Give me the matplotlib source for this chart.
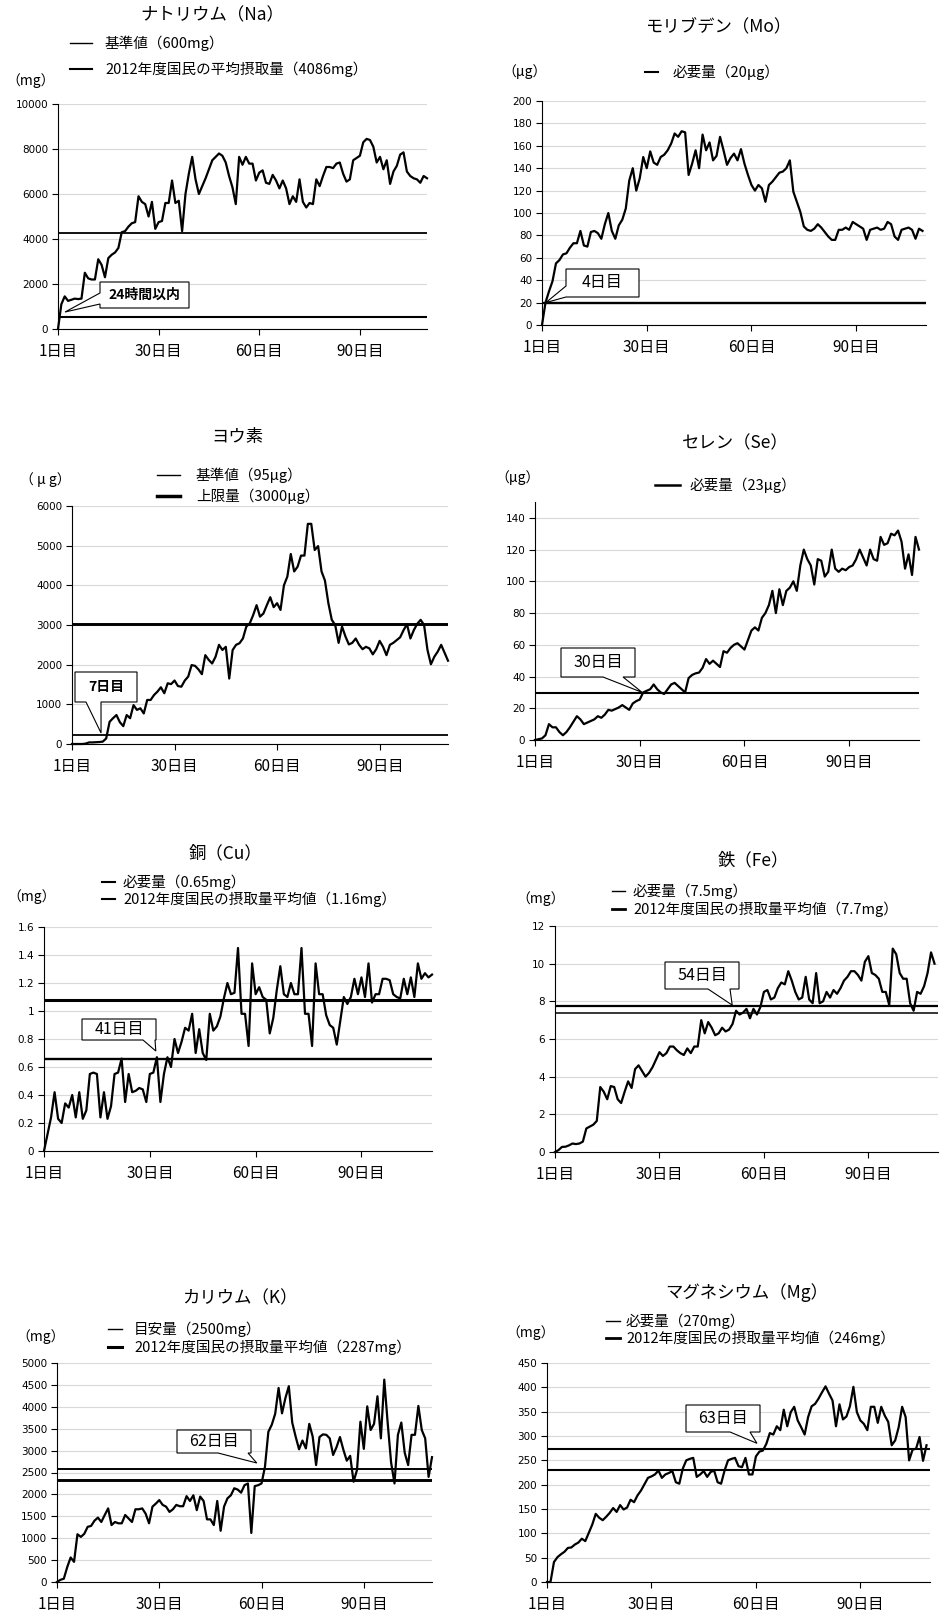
import matplotlib
matplotlib.use("Agg")
import matplotlib.pyplot as plt
from matplotlib.lines import Line2D
from matplotlib.patches import Polygon

# CJK font first, DejaVu for anything it lacks
plt.rcParams['font.family'] = ['Noto Sans CJK JP', 'DejaVu Sans']

W, H = 940, 1613
DAY_END = 111
day_ticks = [1, 31, 61, 91]
day_labels = ['1日目', '30日目', '60日目', '90日目']

# ---- daily values ----
na_vals = [0, 1100, 1450, 1250, 1300, 1350, 1330, 1350, 2500, 2250,
           2200, 2200, 3100, 2850, 2300, 3150, 3300, 3400, 3600, 4300,
           4350, 4550, 4700, 4750, 5900, 5650, 5550, 5000, 5650, 4450,
           4750, 4800, 5600, 5600, 6600, 5600, 5700, 4350, 6000, 6900,
           7650, 6650, 6000, 6350, 6700, 7100, 7500, 7650, 7800, 7700,
           7400, 6800, 6300, 5550,
           7650, 7300, 7650, 7350, 7350, 6600, 6950, 7050, 6500, 6450,
           6850, 6600, 6250, 6600, 6250, 5550, 5900, 5650, 6650, 5650,
           5400, 5600, 5550, 6650, 6350, 6800, 7200, 7200, 7150, 7350,
           7400, 6900, 6550, 6650, 7500, 7600, 7700, 8300, 8450, 8400,
           8100, 7400, 7650, 7100, 7500, 6450, 7000, 7250, 7750, 7850,
           7000, 6800, 6700, 6650, 6500, 6800, 6700]

mo_vals = [0, 20, 30, 39, 55, 58, 63, 64, 69, 73,
           73, 84, 71, 70, 83, 84, 82, 77, 90, 100,
           84, 77, 89, 94, 104, 129, 140, 120, 131, 150,
           140, 155, 145, 143, 150, 152, 156, 162, 171, 168,
           173, 172, 134, 144, 156, 140, 170, 156, 163, 147,
           151, 168, 156, 143, 149, 153, 147, 157, 144, 134,
           125, 120, 125, 122, 110, 125, 128, 132, 136, 137,
           140, 147, 119, 110, 101, 88, 85, 84, 86, 90,
           87, 83, 79, 76, 76, 85, 85, 87, 85, 92,
           90, 88, 86, 76, 85, 86, 87, 85, 86, 92,
           90, 79, 76, 85, 86, 87, 85, 77, 86, 84]

iodine_vals = [0, 0, 0, 0, 10, 40, 40, 45, 50, 60,
               140, 560, 650, 730, 550, 450, 730, 650, 980,
               860, 900, 770, 1110, 1110, 1235, 1320, 1430, 1280, 1530,
               1510, 1600, 1460, 1445, 1600, 1700, 1990, 1970, 1880, 1760,
               2240, 2120, 2030, 2200, 2500, 2370, 2450, 1650, 2370, 2500,
               2540, 2660, 2960, 3040, 3250, 3500, 3210, 3290, 3500, 3700,
               3450, 3550, 3380, 4000, 4220, 4790, 4350, 4470, 4750, 4750,
               5550, 5550, 4890, 4990, 4350, 4120, 3550, 3130, 3000, 2550,
               2960, 2710, 2510, 2550, 2660, 2500, 2390, 2450, 2410, 2260,
               2390, 2600, 2450, 2240, 2500, 2550, 2620, 2690, 2870, 3020,
               2660, 2870, 3030, 3130, 3000, 2370, 2010, 2200, 2330, 2500,
               2300, 2100]

se_vals = [0, 0.5, 1, 3, 10, 8, 8, 5, 3, 5,
           8, 11.5, 15, 13, 10, 11, 12, 13, 15, 14,
           16, 19, 18.5, 19.5, 20.5, 22, 20.5, 19, 23, 24.5,
           25.5, 30, 31, 32, 35, 32, 30, 29, 32, 35,
           36, 34, 32, 30, 39, 41, 42, 42.5, 45.5, 51,
           48, 50, 48, 46, 56, 55, 58, 60, 61, 59,
           57, 63, 69, 71, 69, 77, 80, 85, 94, 80,
           95, 85, 94, 96, 100, 94, 110, 120, 114, 110,
           98, 114, 113, 103, 106, 120, 108, 106, 108, 107,
           109, 110, 114, 120, 115, 110, 120, 114, 113, 128,
           123, 124, 130, 129, 132, 125, 108, 117, 104, 128,
           120]

cu_vals = [0, 0.12, 0.24, 0.42, 0.23, 0.2, 0.34, 0.31, 0.4, 0.24,
           0.42, 0.23, 0.29, 0.55, 0.56, 0.55, 0.24, 0.42, 0.23, 0.32,
           0.55, 0.56, 0.66, 0.35, 0.55, 0.42, 0.43, 0.45, 0.44, 0.35,
           0.55, 0.56, 0.67, 0.35, 0.55, 0.67, 0.6, 0.8, 0.7, 0.78,
           0.88, 0.86, 0.98, 0.7, 0.87, 0.7, 0.65, 0.98, 0.86, 0.89,
           0.96, 1.09, 1.2, 1.12, 1.13, 1.45, 0.98, 0.98, 0.75, 1.34,
           1.12, 1.17, 1.1, 1.08, 0.84, 0.95, 1.15, 1.32, 1.12, 1.1,
           1.2, 1.12, 1.12, 1.45, 0.98, 0.98, 0.75, 1.34, 1.12, 1.12,
           0.97, 0.9, 0.88, 0.76, 0.93, 1.1, 1.05, 1.1, 1.23, 1.12,
           1.24, 1.1, 1.34, 1.06, 1.12, 1.12, 1.23, 1.23, 1.22, 1.12,
           1.1, 1.09, 1.23, 1.12, 1.24, 1.1, 1.34, 1.23, 1.27, 1.24,
           1.26]

fe_vals = [0, 0.1, 0.27, 0.28, 0.35, 0.45, 0.42, 0.45, 0.55, 1.25,
           1.35, 1.45, 1.65, 3.45, 3.2, 2.8, 3.5, 3.45, 2.8, 2.6,
           3.2, 3.75, 3.4, 4.4, 4.6, 4.3, 4.0, 4.2, 4.5, 4.9,
           5.3, 5.1, 5.25, 5.6, 5.6, 5.4, 5.25, 5.15, 5.5, 5.25,
           5.6, 5.6, 7.0, 6.3, 6.9, 6.6, 6.2, 6.3, 6.6, 6.4,
           6.5, 6.8, 7.5, 7.3, 7.4, 7.6, 7.1, 7.6, 7.3, 7.7,
           8.5, 8.6, 8.1, 8.2, 8.7, 9.0, 8.9, 9.6, 9.1, 8.5,
           8.1, 8.2, 9.3, 8.1, 7.9, 9.5, 7.9, 8.0, 8.5, 8.2,
           8.6, 8.4, 8.7, 9.1, 9.3, 9.6, 9.6, 9.4, 9.1, 10.1,
           10.4, 9.5, 9.4, 9.2, 8.5, 8.5, 7.8, 10.8, 10.5, 9.5,
           9.2, 9.2, 7.9, 7.5, 8.5, 8.4, 8.8, 9.5, 10.6, 10.0]

k_vals = [0, 50, 75, 340, 560, 460, 1090, 1030, 1100, 1260,
          1280, 1400, 1470, 1370, 1530, 1680, 1300, 1370, 1340, 1340,
          1530, 1450, 1370, 1660, 1660, 1680, 1560, 1340, 1720, 1790,
          1870, 1760, 1720, 1600, 1660, 1760, 1730, 1730, 1960, 1850,
          1980, 1640, 1950, 1850, 1430, 1430, 1300, 1850, 1170, 1720,
          1910, 1980, 2140, 2110, 2040, 2210, 2250, 1120, 2190, 2210,
          2250, 2630, 3430, 3590, 3840, 4430, 3850, 4200, 4470, 3640,
          3320, 3030, 3230, 3050, 3610, 3320, 2670, 3310, 3370, 3360,
          3280, 2900, 3080, 3310, 3020, 2770, 2880, 2290, 2560, 3660,
          3040, 4010, 3470, 3610, 4240, 3280, 4620, 3630, 2730, 2250,
          3360, 3640, 2950, 2670, 3360, 3360, 4020, 3470, 3280, 2400,
          2850]

mg_vals = [0, 0, 41, 51, 57, 62, 70, 71, 77, 81,
           89, 84, 101, 118, 140, 132, 127, 134, 142, 152,
           144, 158, 149, 153, 169, 164, 178, 188, 201, 214,
           217, 221, 229, 214, 221, 224, 228, 205, 202, 233,
           250, 253, 255, 216, 221, 228, 216, 226, 229, 205,
           202, 229, 250, 253, 255, 238, 236, 255, 221, 221,
           258, 268, 270, 284, 306, 303, 320, 312, 354, 320,
           349, 360, 332, 318, 303, 339, 361, 366, 377, 390,
           402, 387, 373, 320, 365, 334, 340, 361, 401, 349,
           332, 325, 312, 360, 360, 327, 360, 342, 329, 281,
           291, 318, 360, 339, 250, 272, 274, 298, 249, 281]

# reference levels as drawn in the picture
na_refs = [550, 4270]
mo_refs = [20]
iodine_refs = [230, 3020]
se_refs = [29.5]
cu_refs = [0.657, 1.081]
fe_refs = [7.38, 7.75]
k_refs = [2580, 2340]
mg_refs = [274, 231]

na_legend = ['基準値（600mg）', '2012年度国民の平均摂取量（4086mg）']
mo_legend = ['必要量（20μg）']
iodine_legend = ['基準値（95μg）', '上限量（3000μg）']
se_legend = ['必要量（23μg）']
cu_legend = ['必要量（0.65mg）', '2012年度国民の摂取量平均値（1.16mg）']
fe_legend = ['必要量（7.5mg）', '2012年度国民の摂取量平均値（7.7mg）']
k_legend = ['目安量（2500mg）', '2012年度国民の摂取量平均値（2287mg）']
mg_legend = ['必要量（270mg）', '2012年度国民の摂取量平均値（246mg）']

# layout of each panel (pixels in the 940x1613 picture)
panels = [
    dict(title='ナトリウム（Na）', title_xy=(212, 15), unit='（mg）', unit_xy=(6, 81),
         box=(58, 104, 427, 329), vals=na_vals, ymax=10000, ystep=2000, ytop=10000,
         refs=na_refs, ref_lw=[1.5, 1.3],
         legend=na_legend, leg_lw=[1.0, 1.5], leg_y=[43, 69], leg_x=(70, 92, 105),
         call=dict(box=(100, 282, 189, 308), side='left', base=(293, 304),
                   tip=(3.1, 755), text='24時間以内', bold=True)),
    dict(title='モリブデン（Mo）', title_xy=(718, 27), unit='（μg）', unit_xy=(502, 72),
         box=(542, 101, 926, 325), vals=mo_vals, ymax=200, ystep=20, ytop=200,
         refs=mo_refs, ref_lw=[1.7],
         legend=mo_legend, leg_lw=[1.5], leg_y=[72], leg_x=(645, 658, 673),
         call=dict(box=(566, 269, 639, 297), side='left', base=(286, 297),
                   tip=(2.1, 20), text='4日目', bold=False)),
    dict(title='ヨウ素', title_xy=(237, 437), unit='（ μ g）', unit_xy=(20, 480),
         box=(72, 506, 448, 744), vals=iodine_vals, ymax=6000, ystep=1000, ytop=6000,
         refs=iodine_refs, ref_lw=[1.3, 2.1],
         legend=iodine_legend, leg_lw=[1.0, 2.5], leg_y=[475, 496], leg_x=(157, 180, 196),
         call=dict(box=(75, 672, 137, 702), side='bottom', base=(86, 101),
                   tip=(9.5, 277), text='7日目', bold=True)),
    dict(title='セレン（Se）', title_xy=(735, 443), unit='（μg）', unit_xy=(495, 478),
         box=(535, 502, 919, 740), vals=se_vals, ymax=150, ystep=20, ytop=140,
         refs=se_refs, ref_lw=[1.5],
         legend=se_legend, leg_lw=[1.8], leg_y=[485], leg_x=(655, 680, 690),
         call=dict(box=(561, 648, 635, 677), side='bottom', base=(603, 623),
                   tip=(31.7, 30), text='30日目', bold=False)),
    dict(title='銅（Cu）', title_xy=(225, 853), unit='（mg）', unit_xy=(7, 897),
         box=(44, 927, 432, 1151), vals=cu_vals, ymax=1.6, ystep=0.2, ytop=1.6,
         refs=cu_refs, ref_lw=[1.7, 2.2],
         legend=cu_legend, leg_lw=[1.5, 1.5], leg_y=[882, 899], leg_x=(102, 115, 123),
         call=dict(box=(82, 1019, 156, 1040), side='bottom', base=(143, 155),
                   tip=(32.7, 0.714), text='41日目', bold=False)),
    dict(title='鉄（Fe）', title_xy=(753, 860), unit='（mg）', unit_xy=(516, 899),
         box=(555, 926, 938, 1152), vals=fe_vals, ymax=12, ystep=2, ytop=12,
         refs=fe_refs, ref_lw=[1.1, 1.6],
         legend=fe_legend, leg_lw=[1.0, 2.0], leg_y=[891, 909], leg_x=(612, 625, 633),
         call=dict(box=(665, 962, 739, 989), side='bottom', base=(708, 730),
                   tip=(51.9, 7.8), text='54日目', bold=False)),
    dict(title='カリウム（K）', title_xy=(240, 1298), unit='（mg）', unit_xy=(16, 1337),
         box=(57, 1363, 432, 1582), vals=k_vals, ymax=5000, ystep=500, ytop=5000,
         refs=k_refs, ref_lw=[1.4, 2.1],
         legend=k_legend, leg_lw=[1.0, 2.2], leg_y=[1329, 1347], leg_x=(108, 122, 134),
         call=dict(box=(177, 1430, 251, 1453), side='bottom', base=(218, 248),
                   tip=(59.6, 2717), text='62日目', bold=False)),
    dict(title='マグネシウム（Mg）', title_xy=(747, 1293), unit='（mg）', unit_xy=(506, 1333),
         box=(547, 1363, 930, 1582), vals=mg_vals, ymax=450, ystep=50, ytop=450,
         refs=mg_refs, ref_lw=[1.5, 1.5],
         legend=mg_legend, leg_lw=[1.0, 2.0], leg_y=[1321, 1338], leg_x=(606, 620, 626),
         call=dict(box=(686, 1405, 760, 1432), side='bottom', base=(730, 750),
                   tip=(61.3, 285), text='63日目', bold=False)),
]


def fx(px):
    return px / W


def fy(py):
    return 1 - py / H


def callout(ax, box, c):
    """Excel-like rectangular callout with a pointed tail."""
    left, top, right, bottom = box

    def frac(px, py):
        return ((px - left) / (right - left), (bottom - py) / (bottom - top))

    x0, y0, x1, y1 = c['box']
    tl, tr, br, bl = frac(x0, y0), frac(x1, y0), frac(x1, y1), frac(x0, y1)
    tip = tuple(ax.transLimits.transform(c['tip']))
    b1, b2 = c['base']
    if c['side'] == 'left':
        pts = [tl, tr, br, bl, frac(x0, b2), tip, frac(x0, b1)]
    else:
        pts = [tl, tr, br, frac(b2, y1), tip, frac(b1, y1), bl]
    ax.add_patch(Polygon(pts, closed=True, facecolor='white', edgecolor='black',
                         lw=0.8, transform=ax.transAxes, clip_on=False, zorder=5))
    cx, cy = frac((x0 + x1) / 2, (y0 + y1) / 2)
    ax.text(cx, cy, c['text'], transform=ax.transAxes, ha='center', va='center',
            fontsize=11.5 if not c['bold'] else 10,
            fontweight='bold' if c['bold'] else 'normal', zorder=6)


fig = plt.figure(figsize=(W / 100, H / 100), dpi=100)

for p in panels:
    left, top, right, bottom = p['box']
    ax = fig.add_axes([fx(left), fy(bottom), (right - left) / W, (bottom - top) / H])
    days = list(range(1, len(p['vals']) + 1))

    ax.set_xlim(1, DAY_END)
    ax.set_ylim(0, p['ymax'])
    n_ticks = int(round(p['ytop'] / p['ystep'])) + 1
    yt = [round(i * p['ystep'], 6) for i in range(n_ticks)]
    ax.set_yticks(yt)
    ax.set_yticklabels([f"{v:g}" for v in yt], fontfamily='DejaVu Sans', fontsize=7.5)
    ax.set_xticks(day_ticks)
    ax.set_xticklabels(day_labels, fontsize=11)

    ax.yaxis.grid(True, color='#d9d9d9', lw=0.8)
    ax.set_axisbelow(True)
    for s in ['top', 'right']:
        ax.spines[s].set_visible(False)
    for s in ['left', 'bottom']:
        ax.spines[s].set_linewidth(0.8)
    ax.tick_params(axis='y', length=4, width=0.8, pad=3)
    ax.tick_params(axis='x', length=4, width=0.8, pad=6)

    for val, lw in zip(p['refs'], p['ref_lw']):
        ax.axhline(val, color='black', lw=lw, zorder=3)
    ax.plot(days, p['vals'], color='black', lw=1.6, zorder=4, clip_on=False)

    callout(ax, p['box'], p['call'])

    # title, unit and hand-placed legend
    fig.text(fx(p['title_xy'][0]), fy(p['title_xy'][1]), p['title'],
             ha='center', va='center', fontsize=12.5)
    fig.text(fx(p['unit_xy'][0]), fy(p['unit_xy'][1]), p['unit'],
             ha='left', va='center', fontsize=10)
    lx0, lx1, tx = p['leg_x']
    for label, lw, y in zip(p['legend'], p['leg_lw'], p['leg_y']):
        fig.add_artist(Line2D([fx(lx0), fx(lx1)], [fy(y), fy(y)], color='black',
                              lw=lw, transform=fig.transFigure))
        fig.text(fx(tx), fy(y), label, ha='left', va='center', fontsize=10.5)

fig.savefig('out.png', dpi=100)
